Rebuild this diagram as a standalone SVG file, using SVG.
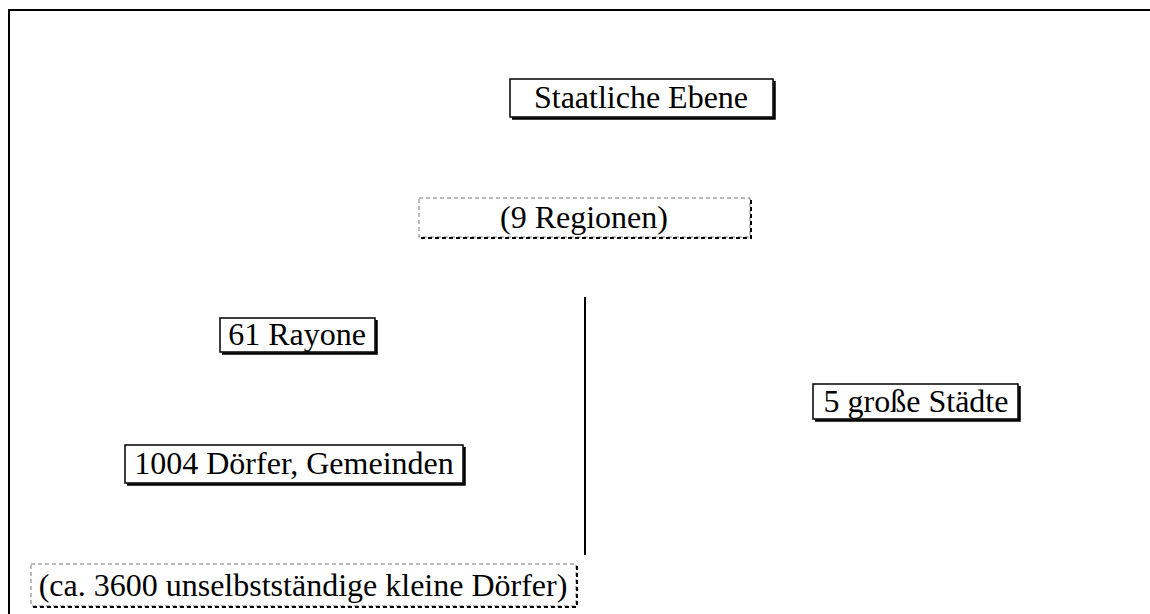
<svg xmlns="http://www.w3.org/2000/svg" width="1150" height="614" viewBox="0 0 1150 614" font-family="'Liberation Serif', 'DejaVu Serif', serif">
<style>
text{font-family:'Liberation Serif','DejaVu Serif',serif;font-size:32px;fill:#000;text-anchor:middle}
.box{fill:#fff;stroke:#000;stroke-width:1.5}
.sh{fill:none;stroke:#000;stroke-width:2.5}
.dbox{fill:#fff;stroke:#777;stroke-width:1;stroke-dasharray:4 3}
.dsh{fill:none;stroke:#000;stroke-width:2;stroke-dasharray:4 3}
.frame{fill:none;stroke:#000;stroke-width:2}
</style>
<rect width="1150" height="614" fill="#fff"/>
<path class="frame" d="M9,614 V10 H1150"/>
<g id="connectors">
<line x1="585" y1="297" x2="585" y2="555" stroke="#000" stroke-width="2"/>
</g>
<g id="staatliche">
<rect class="box" x="510" y="79" width="263" height="38"/>
<path class="sh" d="M774.5,81 V118.5 H512"/>
<text x="641" y="108">Staatliche Ebene</text>
</g>
<g id="regionen">
<rect class="dbox" x="419" y="198" width="331" height="39"/>
<path class="dsh" d="M751,200 V238 H421"/>
<text x="584" y="228">(9 Regionen)</text>
</g>
<g id="rayone">
<rect class="box" x="220" y="318" width="155" height="34"/>
<path class="sh" d="M376.5,320 V353.5 H222"/>
<text x="297" y="345">61 Rayone</text>
</g>
<g id="doerfer">
<rect class="box" x="125" y="445" width="338" height="38"/>
<path class="sh" d="M464.5,447 V484.5 H127"/>
<text x="294" y="474">1004 Dörfer, Gemeinden</text>
</g>
<g id="staedte">
<rect class="box" x="813" y="384" width="205" height="35"/>
<path class="sh" d="M1019.5,386 V420.5 H815"/>
<text x="916" y="412">5 große Städte</text>
</g>
<g id="kleine">
<rect class="dbox" x="31" y="564" width="545" height="42"/>
<path class="dsh" d="M577,566 V607 H33"/>
<text x="303" y="596">(ca. 3600 unselbstständige kleine Dörfer)</text>
</g>
</svg>
